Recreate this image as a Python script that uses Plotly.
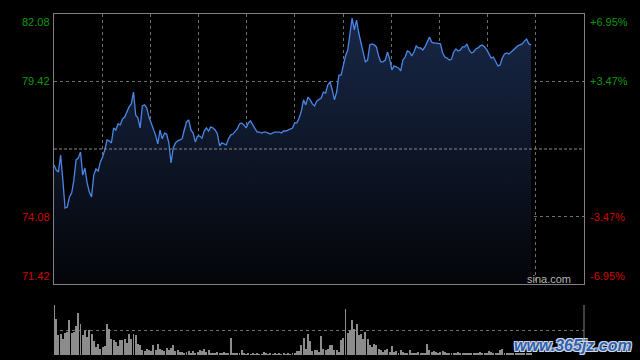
import plotly.graph_objects as go

# ---- data ----
prev_close = 76.75
price_ticks = [82.08, 79.42, 74.08, 71.42]
pct_ticks = ["+6.95%", "+3.47%", "-3.47%", "-6.95%"]

price = [
    76.12, 75.92, 75.84, 76.51, 75.53, 74.42, 74.46, 74.86, 75.01, 75.53,
    76.32, 76.39, 76.63, 75.72, 76.00, 75.41, 75.05, 74.86, 75.72, 75.96,
    75.88, 76.24, 76.43, 76.71, 77.11, 77.07, 76.99, 77.58, 77.50, 77.74,
    77.70, 77.93, 78.01, 78.25, 78.41, 78.53, 79.00, 78.09, 77.97, 77.58,
    78.45, 78.49, 78.37, 78.01, 77.78, 77.58, 77.30, 76.95, 77.50, 77.15,
    77.38, 77.34, 76.99, 76.20, 76.79, 76.99, 77.07, 77.11, 77.15, 77.50,
    77.82, 77.90, 77.50, 77.38, 77.03, 77.26, 77.26, 77.18, 77.46, 77.58,
    77.46, 77.62, 77.58, 77.50, 77.34, 76.87, 76.99, 76.95, 76.91, 77.15,
    77.30, 77.34, 77.42, 77.54, 77.74, 77.78, 77.70, 77.58, 77.78, 77.86,
    77.70, 77.58, 77.42, 77.42, 77.38, 77.42, 77.42, 77.38, 77.34, 77.38,
    77.42, 77.42, 77.42, 77.38, 77.46, 77.46, 77.50, 77.54, 77.58, 77.78,
    77.78, 77.97, 78.25, 78.69, 78.49, 78.80, 78.69, 78.53, 78.45, 78.65,
    78.72, 78.76, 79.00, 78.96, 79.28, 79.40, 79.08, 78.69, 79.00, 79.67,
    79.67, 80.11, 80.42, 80.66, 81.21, 81.92, 81.45, 81.84, 81.33, 80.97,
    80.54, 80.19, 80.26, 80.86, 80.90, 80.86, 80.78, 80.42, 80.19, 80.19,
    80.26, 80.58, 80.30, 79.87, 80.03, 79.99, 79.95, 79.83, 80.26, 80.38,
    80.62, 80.58, 80.42, 80.58, 80.82, 80.74, 80.74, 80.66, 80.78, 80.97,
    81.17, 80.97, 80.93, 80.93, 80.90, 80.90, 80.54, 80.38, 80.34, 80.26,
    80.30, 80.58, 80.70, 80.62, 80.66, 80.78, 80.78, 80.90, 80.66, 80.54,
    80.58, 80.70, 80.74, 80.82, 80.86, 80.78, 80.66, 80.50, 80.34, 80.38,
    80.22, 80.03, 80.07, 80.34, 80.50, 80.54, 80.50, 80.58, 80.62, 80.70,
    80.82, 80.86, 80.90, 81.01, 81.09, 80.90, 80.86,
]

volume = [
    100, 73, 40, 42, 32, 44, 46, 70, 44, 46,
    58, 85, 62, 40, 49, 37, 50, 42, 28, 17,
    22, 12, 17, 18, 63, 53, 32, 30, 27, 18,
    31, 30, 33, 25, 43, 33, 43, 40, 23, 20,
    10, 9, 13, 11, 8, 20, 11, 23, 13, 11,
    9, 15, 11, 15, 21, 9, 10, 7, 7, 5,
    7, 8, 5, 8, 5, 7, 10, 9, 13, 7,
    10, 5, 3, 5, 7, 3, 5, 7, 3, 5,
    35, 3, 5, 5, 3, 10, 5, 2, 5, 2,
    3, 2, 5, 2, 2, 7, 3, 2, 3, 2,
    3, 2, 3, 2, 3, 2, 3, 2, 3, 4,
    9, 9, 20, 35, 13, 43, 28, 9, 11, 10,
    7, 38, 13, 11, 13, 21, 20, 10, 10, 7,
    31, 35, 93, 45, 50, 70, 53, 63, 40, 42,
    33, 47, 33, 20, 17, 22, 20, 13, 11, 7,
    10, 13, 7, 18, 7, 9, 5, 11, 7, 3,
    5, 10, 5, 4, 3, 6, 3, 5, 4, 22,
    10, 7, 9, 7, 5, 7, 9, 7, 4, 3,
    5, 3, 4, 6, 3, 5, 4, 3, 5, 4,
    3, 5, 4, 7, 4, 3, 5, 9, 7, 4,
    3, 5, 11, 13, 5, 3, 4, 3, 3, 4,
    3, 3, 4, 3, 3, 3, 3,
]

minute = list(range(len(price)))
session_minutes = 240
grid_div = 11

# ---- layout geometry ----
W, H = 640, 360
xl, xr = 54 / W, 584 / W
main_dom = [1 - 284 / H, 1 - 14 / H]
vol_dom = [1 - 355 / H, 1 - 305 / H]

GRID = "#6e6e6e"
FRAME = "#808080"
GREEN = "#0b9a0b"
RED = "#d40000"
LINE = "#4a86e6"

fig = go.Figure()

# baseline for fill
fig.add_trace(go.Scatter(
    x=[minute[0], minute[-1]], y=[price_ticks[-1], price_ticks[-1]],
    mode="lines", line=dict(width=0), hoverinfo="skip", showlegend=False,
    xaxis="x", yaxis="y",
))
fig.add_trace(go.Scatter(
    x=minute, y=price, mode="lines",
    line=dict(color=LINE, width=1.3),
    fill="tonexty",
    fillgradient=dict(type="vertical",
                      colorscale=[[0, "rgb(4,5,9)"], [1, "rgb(24,40,72)"]],
                      start=price_ticks[-1], stop=price_ticks[0]),
    showlegend=False, xaxis="x", yaxis="y",
))

fig.add_trace(go.Bar(
    x=list(range(len(volume))), y=volume, width=0.45,
    marker=dict(color="#8c8c8c", line=dict(width=0)),
    showlegend=False, xaxis="x2", yaxis="y2",
))

grid_vals = [session_minutes * k / grid_div for k in range(1, grid_div)]

fig.update_layout(
    width=W, height=H,
    margin=dict(l=0, r=0, t=0, b=0),
    paper_bgcolor="black", plot_bgcolor="black",
    font=dict(family="Liberation Sans, Arial", size=11),
    bargap=0,
    xaxis=dict(domain=[xl, xr], range=[0, session_minutes], tickvals=grid_vals,
               showticklabels=False, ticks="", showgrid=True, gridcolor=GRID,
               griddash="dot", gridwidth=1, zeroline=False,
               showline=True, mirror=True, linecolor=FRAME, linewidth=1,
               anchor="y"),
    yaxis=dict(domain=main_dom, range=[price_ticks[-1], price_ticks[0]],
               tickvals=[price_ticks[1], price_ticks[2]],
               showticklabels=False, ticks="", showgrid=True, gridcolor=GRID,
               griddash="dot", gridwidth=1, zeroline=False,
               showline=True, mirror=True, linecolor=FRAME, linewidth=1,
               anchor="x"),
    xaxis2=dict(domain=[xl, xr], range=[0, session_minutes], showgrid=False,
                showticklabels=False, ticks="", zeroline=False, showline=False,
                anchor="y2"),
    yaxis2=dict(domain=vol_dom, range=[0, 100], tickvals=[0.3, 50, 99.7],
                showticklabels=False, ticks="", showgrid=True, gridcolor=GRID,
                griddash="dot", gridwidth=1, zeroline=False, showline=False,
                anchor="x2"),
)

# previous close line
fig.add_shape(type="line", xref="x domain", yref="y", x0=0, x1=1,
              y0=prev_close, y1=prev_close,
              line=dict(color="#8a8a8a", width=1, dash="3px,2px"))
# volume panel right edge
fig.add_shape(type="line", xref="x2 domain", yref="y2 domain", x0=1, x1=1,
              y0=0, y1=1, line=dict(color=FRAME, width=1))

# axis labels
anchors = ["top", "middle", "middle", "bottom"]
colors = [GREEN, GREEN, RED, RED]
for v, pt, ya, c in zip(price_ticks, pct_ticks, anchors, colors):
    ys = -1 if ya == "top" else (1 if ya == "bottom" else 0)
    fig.add_annotation(x=51 / W, xref="paper", xanchor="right", y=v, yref="y",
                       yanchor=ya, text=f"{v:.2f}", showarrow=False,
                       font=dict(color=c, size=11), borderpad=0, yshift=ys)
    fig.add_annotation(x=589 / W, xref="paper", xanchor="left", y=v, yref="y",
                       yanchor=ya, text=pt, showarrow=False,
                       font=dict(color=c, size=11), borderpad=0, yshift=ys)

fig.add_annotation(x=573 / W, xref="paper", xanchor="right", y=1 - 279 / H,
                   yref="paper", yanchor="middle", text="sina.com",
                   showarrow=False, font=dict(color="#b4b4b4", size=11))

fig.add_annotation(x=634 / W, xref="paper", xanchor="right", y=1 - 345 / H,
                   yref="paper", yanchor="middle", text="www.365jz.com",
                   showarrow=False,
                   font=dict(color="#2f5fae", size=16, family="Liberation Sans, Arial",
                             weight="bold", style="italic",
                             shadow="1px 1px 0 #cfd8e6, -1px -1px 0 #cfd8e6, 1px -1px 0 #cfd8e6, -1px 1px 0 #cfd8e6"))

fig.write_html(
    "out.html",
    config={"displayModeBar": False},
    post_script="document.body.style.margin='0';document.body.style.background='#000';document.body.style.overflow='hidden';",
)
